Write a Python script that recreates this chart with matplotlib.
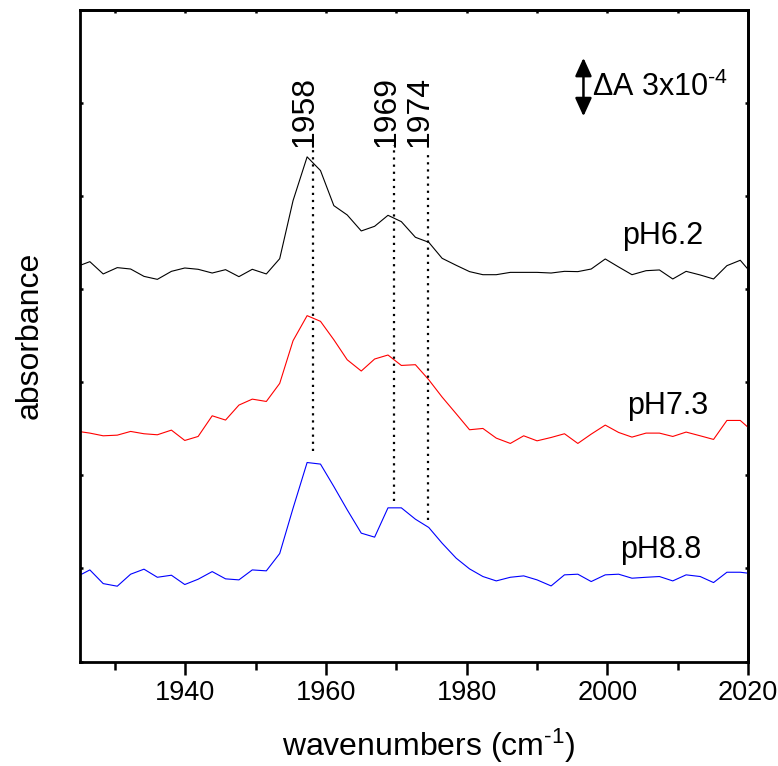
import matplotlib
matplotlib.use("Agg")
import matplotlib.pyplot as plt
from matplotlib.ticker import MultipleLocator, NullFormatter

plt.rcParams['font.family'] = ['Liberation Sans', 'DejaVu Sans']
plt.rcParams['mathtext.fontset'] = 'custom'
plt.rcParams['mathtext.rm'] = 'Liberation Sans'
plt.rcParams['mathtext.it'] = 'Liberation Sans:italic'
plt.rcParams['mathtext.default'] = 'regular'

# wavenumber grid (cm-1)
wavenumbers = [1924.5, 1926.4, 1928.3, 1930.3, 1932.2, 1934.1, 1936.0, 1938.0, 1939.9,
               1941.8, 1943.8, 1945.7, 1947.6, 1949.5, 1951.5, 1953.4, 1955.3, 1957.3,
               1959.2, 1961.1, 1963.0, 1965.0, 1966.9, 1968.8, 1970.7, 1972.7, 1974.6,
               1976.5, 1978.5, 1980.4, 1982.3, 1984.2, 1986.2, 1988.1, 1990.0, 1992.0,
               1993.9, 1995.8, 1997.7, 1999.7, 2001.6, 2003.5, 2005.5, 2007.4, 2009.3,
               2011.2, 2013.2, 2015.1, 2017.0, 2018.9, 2020.9]

# absorbance traces (arbitrary units, vertically offset)
ph62 = [4.242, 4.296, 4.164, 4.232, 4.217, 4.138, 4.106, 4.192, 4.228, 4.214, 4.174,
        4.210, 4.135, 4.214, 4.164, 4.328, 4.952, 5.422, 5.275, 4.898, 4.798, 4.626,
        4.676, 4.794, 4.726, 4.558, 4.504, 4.332, 4.257, 4.189, 4.156, 4.156, 4.181,
        4.181, 4.181, 4.174, 4.192, 4.189, 4.217, 4.325, 4.239, 4.156, 4.199, 4.207,
        4.110, 4.192, 4.153, 4.110, 4.253, 4.311, 4.135]
ph73 = [2.475, 2.454, 2.425, 2.432, 2.472, 2.447, 2.436, 2.486, 2.375, 2.418, 2.640,
        2.594, 2.755, 2.819, 2.794, 2.988, 3.447, 3.716, 3.655, 3.457, 3.242, 3.121,
        3.250, 3.293, 3.181, 3.189, 3.027, 2.841, 2.662, 2.490, 2.504, 2.400, 2.343,
        2.425, 2.371, 2.407, 2.447, 2.343, 2.443, 2.540, 2.461, 2.411, 2.454, 2.454,
        2.418, 2.465, 2.425, 2.386, 2.590, 2.590, 2.457]
ph88 = [0.909, 0.984, 0.837, 0.809, 0.938, 0.992, 0.905, 0.927, 0.827, 0.884, 0.966,
        0.888, 0.877, 0.984, 0.974, 1.160, 1.647, 2.138, 2.121, 1.880, 1.630, 1.379,
        1.336, 1.651, 1.651, 1.529, 1.440, 1.271, 1.110, 0.995, 0.913, 0.866, 0.905,
        0.920, 0.877, 0.812, 0.931, 0.938, 0.859, 0.931, 0.938, 0.895, 0.905, 0.913,
        0.866, 0.931, 0.913, 0.848, 0.959, 0.959, 0.941]

series_labels = ["pH6.2", "pH7.3", "pH8.8"]
series_colors = ["black", "red", "blue"]
label_pos = [(2002.1, 4.49), (2002.8, 2.66), (2001.8, 1.11)]

# peak markers
peak_x = [1958.1, 1969.7, 1974.5]
peak_labels = ["1958", "1969", "1974"]
peak_top = [5.55, 5.55, 5.47]
peak_bottom = [2.26, 1.72, 1.52]

# scale bar (3x10^-4)
bar_x = 1996.6
bar_top = 6.486
bar_bottom = 5.858

fig = plt.figure(figsize=(7.78, 7.66), dpi=100)
ax = fig.add_axes([80 / 778, (766 - 661.5) / 766, 668 / 778, 651.5 / 766])

for ys, c in zip([ph62, ph73, ph88], series_colors):
    ax.plot(wavenumbers, ys, color=c, lw=0.8)

for (lx, ly), lab in zip(label_pos, series_labels):
    ax.text(lx, ly, lab, fontsize=22, ha='left', va='baseline')

for px, pt, pb, pl in zip(peak_x, peak_top, peak_bottom, peak_labels):
    ax.plot([px, px], [pb, pt], color='black', lw=1.6, linestyle=(0, (1.0, 2.2)))
    ax.text(px, 5.53, pl, fontsize=23, rotation=90, rotation_mode='anchor',
            ha='left', va='baseline')

ax.annotate('', xy=(bar_x, bar_top), xytext=(bar_x, bar_bottom),
            arrowprops=dict(arrowstyle='<|-|>,head_length=1.1,head_width=0.5',
                            mutation_scale=10, lw=1.8, color='black',
                            shrinkA=0, shrinkB=0))
ax.text(1997.8, (bar_top + bar_bottom) / 2, r'ΔA 3x10$^{\text{-}4}$', fontsize=22,
        ha='left', va='center')

ax.set_xlim(1925, 2020)
ax.set_ylim(0, 7)
ax.xaxis.set_major_locator(MultipleLocator(20))
ax.xaxis.set_minor_locator(MultipleLocator(10))
ax.yaxis.set_major_locator(MultipleLocator(1))
ax.yaxis.set_major_formatter(NullFormatter())

for s in ax.spines.values():
    s.set_linewidth(2.0)

ax.tick_params(axis='x', which='major', direction='out', length=9.5, width=1.8,
               labelsize=19.5, pad=4)
ax.tick_params(axis='x', which='minor', direction='out', length=5.5, width=1.8)
ax.tick_params(axis='y', which='major', direction='in', length=2.5, width=1.8)

top = ax.secondary_xaxis('top')
top.xaxis.set_major_locator(MultipleLocator(10))
top.tick_params(direction='in', length=2.5, width=1.8, labeltop=False)
top.spines['top'].set_linewidth(2.0)
right = ax.secondary_yaxis('right')
right.yaxis.set_major_locator(MultipleLocator(1))
right.tick_params(direction='in', length=2.5, width=1.8, labelright=False)
right.spines['right'].set_linewidth(2.0)

ax.set_xlabel(r'wavenumbers (cm$^{\text{-}1}$)', fontsize=23, labelpad=15)
ax.xaxis.label.set_x(0.522)
ax.set_ylabel('absorbance', fontsize=23, labelpad=22)

fig.savefig('out.png', dpi=100)
